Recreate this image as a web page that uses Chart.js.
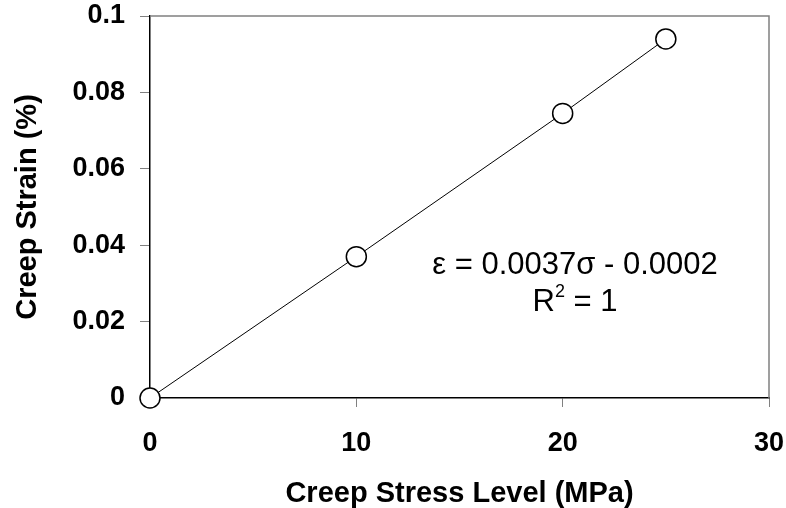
<!DOCTYPE html>
<html>
<head>
<meta charset="utf-8">
<script src="https://cdn.jsdelivr.net/npm/chart.js@4/dist/chart.umd.min.js"></script>
<style>
  html, body { margin: 0; padding: 0; background: #fff; }
  #wrap { width: 786px; height: 508px; }
</style>
</head>
<body>
<div id="wrap"><canvas id="chart" width="786" height="508"></canvas></div>
<script>
// data
const stressLevels = [0, 10, 20, 25];
const creepStrain = [0, 0.037, 0.0745, 0.094];
const xTickLabels = ["0", "10", "20", "30"];
const yTickLabels = ["0", "0.02", "0.04", "0.06", "0.08", "0.1"];
const equationText = "\u03b5 = 0.0037\u03c3 - 0.0002";
const rSquaredText = ["R", "2", " = 1"];

const points = stressLevels.map((x, i) => ({ x: x, y: creepStrain[i] }));

const FAMILY = "'Liberation Sans', Arial, sans-serif";

// gray top/right frame plus the regression label
const framePlugin = {
  id: "frame",
  beforeDatasetsDraw(chart) {
    const { ctx, chartArea } = chart;
    ctx.save();
    ctx.strokeStyle = "#808080";
    ctx.lineWidth = 1.5;
    ctx.beginPath();
    ctx.moveTo(chartArea.left, chartArea.top);
    ctx.lineTo(chartArea.right, chartArea.top);
    ctx.lineTo(chartArea.right, chartArea.bottom);
    ctx.stroke();
    ctx.restore();
  },
  afterDatasetsDraw(chart) {
    const { ctx, scales } = chart;
    const cx = scales.x.getPixelForValue(20.6);
    ctx.save();
    ctx.fillStyle = "#000";
    ctx.textBaseline = "middle";
    ctx.font = "31px " + FAMILY;
    ctx.textAlign = "center";
    ctx.fillText(equationText, cx, scales.y.getPixelForValue(0.0346));

    // R^2 = 1 with a raised small 2
    const y2 = scales.y.getPixelForValue(0.025);
    ctx.textAlign = "left";
    const big = "31px " + FAMILY;
    const small = "18px " + FAMILY;
    ctx.font = big;
    const wR = ctx.measureText(rSquaredText[0]).width;
    const wRest = ctx.measureText(rSquaredText[2]).width;
    ctx.font = small;
    const w2 = ctx.measureText(rSquaredText[1]).width;
    let x = cx - (wR + w2 + wRest) / 2;
    ctx.font = big;
    ctx.fillText(rSquaredText[0], x, y2);
    x += wR;
    ctx.font = small;
    ctx.fillText(rSquaredText[1], x, y2 - 10);
    x += w2;
    ctx.font = big;
    ctx.fillText(rSquaredText[2], x, y2);
    ctx.restore();
  },
};

const tickFont = { family: FAMILY, size: 27, weight: "bold" };
const titleFont = { family: FAMILY, size: 29, weight: "bold", lineHeight: 1 };

new Chart(document.getElementById("chart").getContext("2d"), {
  type: "scatter",
  data: {
    datasets: [
      {
        data: points,
        showLine: true,
        clip: false,
        borderColor: "#000",
        borderWidth: 1,
        pointRadius: 10,
        pointHoverRadius: 10,
        pointBackgroundColor: "#fff",
        pointBorderColor: "#000",
        pointBorderWidth: 1.5,
      },
    ],
  },
  options: {
    responsive: false,
    animation: false,
    events: [],
    layout: { padding: { top: 16, right: 17, left: 0, bottom: 0 } },
    plugins: { legend: { display: false }, tooltip: { enabled: false } },
    scales: {
      x: {
        type: "linear",
        min: 0,
        max: 30,
        afterFit(scale) {
          scale.height = 110;
          scale.paddingLeft = 0;
          scale.paddingRight = 0;
        },
        ticks: {
          stepSize: 10,
          color: "#000",
          font: tickFont,
          padding: 20,
          maxRotation: 0,
          callback: (v, i) => xTickLabels[i],
        },
        grid: { drawOnChartArea: false, drawTicks: true, tickLength: 9, color: "#808080" },
        border: { color: "#000", width: 1.5 },
        title: {
          display: true,
          text: "Creep Stress Level (MPa)",
          color: "#000",
          font: titleFont,
          padding: { top: 0, bottom: 0 },
        },
      },
      y: {
        type: "linear",
        min: 0,
        max: 0.1,
        afterFit(scale) {
          scale.width = 150;
          scale.paddingTop = 0;
          scale.paddingBottom = 0;
        },
        ticks: {
          stepSize: 0.02,
          color: "#000",
          font: tickFont,
          padding: 15,
          callback: (v, i) => yTickLabels[i],
        },
        grid: { drawOnChartArea: false, drawTicks: true, tickLength: 10, color: "#808080" },
        border: { color: "#000", width: 1.5 },
        title: {
          display: true,
          text: "Creep Strain (%)",
          color: "#000",
          font: titleFont,
          padding: { top: 13, bottom: 0 },
        },
      },
    },
  },
  plugins: [framePlugin],
});
</script>
</body>
</html>
